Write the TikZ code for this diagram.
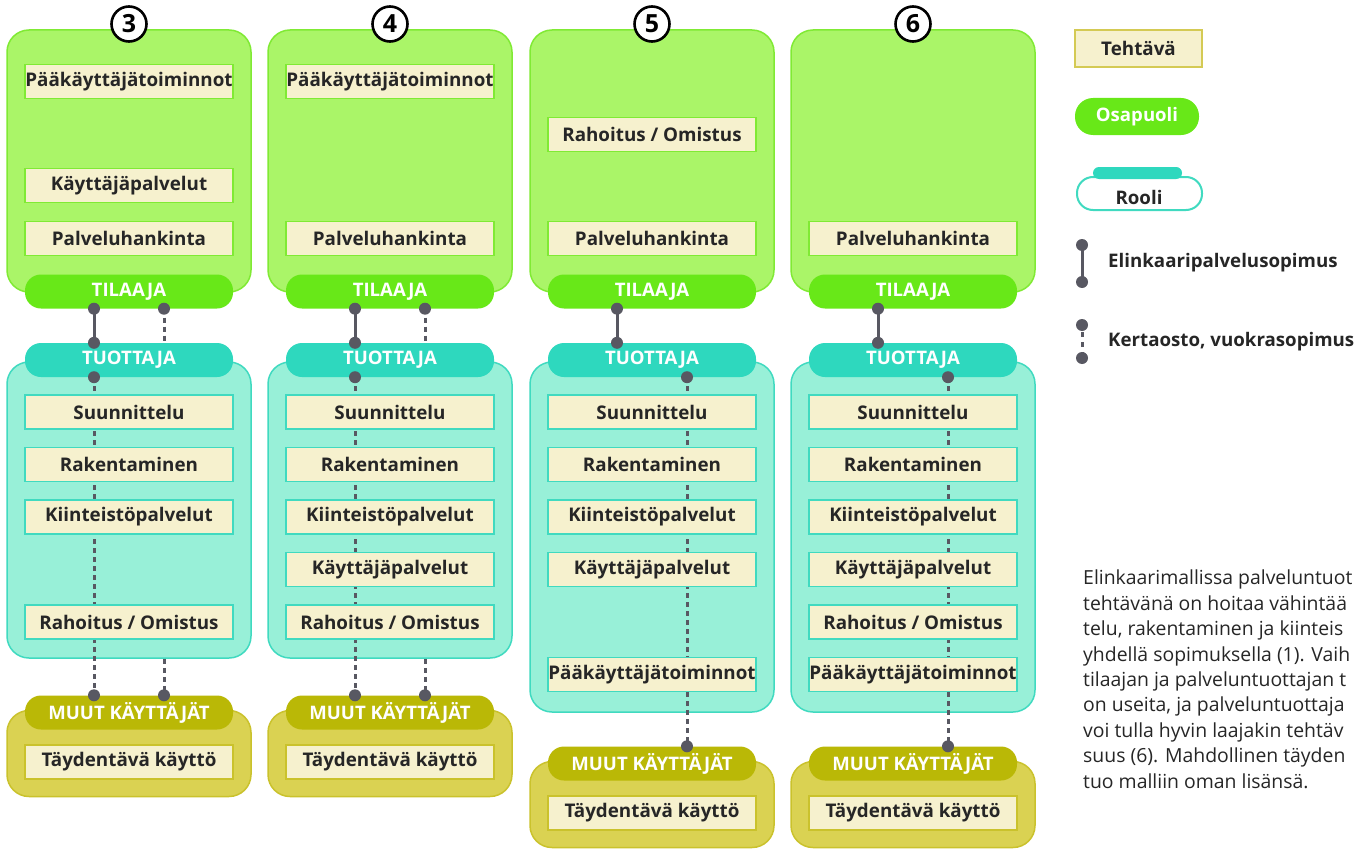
\documentclass[tikz,border=0pt]{standalone}
\usepackage{fontspec}
\setmainfont{Open Sans}
\usepackage{tikz}
\usetikzlibrary{positioning}
\definecolor{osagreen}{RGB}{170,245,104}
\definecolor{osaline}{RGB}{128,234,52}
\definecolor{tilgreen}{RGB}{104,232,24}
\definecolor{tuofill}{RGB}{152,240,216}
\definecolor{tuoline}{RGB}{64,218,192}
\definecolor{tuopill}{RGB}{46,216,190}
\definecolor{muufill}{RGB}{218,210,82}
\definecolor{muuline}{RGB}{202,194,44}
\definecolor{muupill}{RGB}{186,184,6}
\definecolor{taskfill}{RGB}{246,241,206}
\definecolor{tasktext}{RGB}{38,38,38}
\definecolor{sopgray}{RGB}{88,88,98}
\definecolor{legline}{RGB}{212,202,84}
\tikzset{
  tehtava/.style={rectangle, fill=taskfill, draw=#1, line width=1.2pt,
    minimum width=208pt, minimum height=34pt, inner sep=0pt, text=tasktext,
    font=\bfseries\fontsize{18.8}{22}\selectfont},
  tehtava/.default=tuoline,
  lohko/.style={rectangle, rounded corners=22pt, line width=1.5pt,
    minimum width=244pt, inner sep=0pt},
  roolipill/.style={rectangle, rounded corners=16pt, minimum width=208pt,
    minimum height=34pt, inner sep=0pt, text=white,
    font=\bfseries\fontsize{18.6}{22}\selectfont},
  numero/.style={circle, draw=black, line width=2.6pt, fill=white,
    minimum size=35pt, inner sep=0pt, font=\bfseries\fontsize{25}{26}\selectfont},
  sopimus/.style={draw=sopgray, line width=3pt},
  kerta/.style={sopimus, dash pattern=on 5pt off 4pt},
  piste/.style={fill=sopgray},
  legtext/.style={text=tasktext, inner sep=0pt, font=\bfseries\fontsize{18.7}{22}\selectfont}
}
\begin{document}
\begin{tikzpicture}[x=1pt,y=-1pt]
  \useasboundingbox (0,0) rectangle (1356,848);
  \fill[white] (0,0) rectangle (1356,848);
  % Columns 3-6: tilaaja, tuottaja and muut kayttajat blocks with their pills
  \foreach \n/\cx/\ty/\th/\my in {3/129/510/296/712.5, 4/390/510/296/712.5,
                                  5/652/537/350/763.5, 6/913/537/350/763.5} {
    \node[lohko, fill=osagreen, draw=osaline, minimum height=262pt] (tila\n) at (\cx,161) {};
    \node[roolipill, fill=tilgreen] (tilp\n) at (\cx,291.5) {TILAAJA};
    \node[lohko, fill=tuofill, draw=tuoline, minimum height=\th pt] (tuot\n) at (\cx,\ty) {};
    \node[roolipill, fill=tuopill] (tuop\n) at (\cx,360) {TUOTTAJA};
    \node[lohko, fill=muufill, draw=muuline, minimum height=86pt] (muut\n) at (\cx,\my+41) {};
    \node[roolipill, fill=muupill] (muup\n) at (\cx,\my) {MUUT KÄYTTÄJÄT};
    \node[numero] (nro\n) at (\cx,24) {\n};
  }
  % Contracts: 3 and 4 have two links to tilaaja and to muut kayttajat
  \foreach \n in {3,4} {
    \draw[sopimus] ([xshift=-35pt]tilp\n.south) -- ([xshift=-35pt]tuop\n.north);
    \draw[kerta] ([xshift=35pt]tilp\n.south) -- ([xshift=35pt]tuop\n.north);
    \draw[kerta] ([xshift=-35pt]tuop\n.south) -- ([xshift=-35pt]muup\n.north);
    \draw[kerta] ([xshift=35pt]tuot\n.south) -- ([xshift=35pt]muup\n.north);
  }
  \foreach \n in {5,6} {
    \draw[sopimus] ([xshift=-35pt]tilp\n.south) -- ([xshift=-35pt]tuop\n.north);
    \draw[kerta] ([xshift=35pt]tuop\n.south) -- ([xshift=35pt]muup\n.north);
  }
  % Tasks shared by every column
  \foreach \n/\cx/\my in {3/129/712.5, 4/390/712.5, 5/652/763.5, 6/913/763.5} {
    \node[tehtava=osaline] (pal\n) at (\cx,238.5) {Palveluhankinta};
    \node[tehtava] (suu\n) at (\cx,412) {Suunnittelu};
    \node[tehtava] (rak\n) at (\cx,464.5) {Rakentaminen};
    \node[tehtava] (kii\n) at (\cx,517) {Kiinteistöpalvelut};
    \node[tehtava=muuline] (tay\n) at (\cx,\my+49.5) {Täydentävä käyttö};
  }
  % Tasks that move between the parties
  \node[tehtava=osaline] (paa3) at (129,81.5) {Pääkäyttäjätoiminnot};
  \node[tehtava=osaline] (kay3) at (129,185.5) {Käyttäjäpalvelut};
  \node[tehtava] (rah3) at (129,622) {Rahoitus / Omistus};
  \node[tehtava=osaline] (paa4) at (390,81.5) {Pääkäyttäjätoiminnot};
  \node[tehtava] (kay4) at (390,569.5) {Käyttäjäpalvelut};
  \node[tehtava] (rah4) at (390,622) {Rahoitus / Omistus};
  \node[tehtava=osaline] (rah5) at (652,134.5) {Rahoitus / Omistus};
  \node[tehtava] (kay5) at (652,569.5) {Käyttäjäpalvelut};
  \node[tehtava] (paa5) at (652,674.5) {Pääkäyttäjätoiminnot};
  \node[tehtava] (kay6) at (913,569.5) {Käyttäjäpalvelut};
  \node[tehtava] (rah6) at (913,622) {Rahoitus / Omistus};
  \node[tehtava] (paa6) at (913,674.5) {Pääkäyttäjätoiminnot};
  % Contract end points
  \foreach \n in {3,4} {
    \fill[piste] ([xshift=-35pt]tilp\n.south) circle (6);
    \fill[piste] ([xshift=35pt]tilp\n.south) circle (6);
    \fill[piste] ([xshift=-35pt]tuop\n.north) circle (6);
    \fill[piste] ([xshift=-35pt]tuop\n.south) circle (6);
    \fill[piste] ([xshift=-35pt]muup\n.north) circle (6);
    \fill[piste] ([xshift=35pt]muup\n.north) circle (6);
  }
  \foreach \n in {5,6} {
    \fill[piste] ([xshift=-35pt]tilp\n.south) circle (6);
    \fill[piste] ([xshift=-35pt]tuop\n.north) circle (6);
    \fill[piste] ([xshift=35pt]tuop\n.south) circle (6);
    \fill[piste] ([xshift=35pt]muup\n.north) circle (6);
  }
  % Legend
  \node[tehtava=legline, line width=2pt, minimum width=127pt, minimum height=37pt] (legteh) at (1138.5,48.5) {Tehtävä};
  \node[roolipill, fill=tilgreen, rounded corners=18pt, minimum width=124pt, minimum height=37pt] (legosa) at (1137,116.5) {Osapuoli};
  \node[roolipill, fill=white, draw=tuoline, line width=2pt, minimum width=125pt, minimum height=33pt] (legroo) at (1139.5,193.5) {};
  \node[fill=tuopill, rounded corners=6pt, minimum width=89pt, minimum height=12pt, inner sep=0pt] (legbar) at (1137.5,173) {};
  \node[legtext] (legroot) at (1139,197) {Rooli};
  \coordinate (ela) at (1082,245);
  \coordinate (elb) at (1082,282);
  \coordinate (elm) at (1082,263);
  \draw[sopimus] (ela) -- (elb);
  \fill[piste] (ela) circle (6);
  \fill[piste] (elb) circle (6);
  \node[legtext, right=26pt of elm] (legeli) {Elinkaaripalvelusopimus};
  \coordinate (kea) at (1082,325);
  \coordinate (keb) at (1082,358);
  \coordinate (kem) at (1082,342);
  \draw[kerta, dash pattern=on 5pt off 5pt, dash phase=-7pt] (kea) -- (keb);
  \fill[piste] (kea) circle (6);
  \fill[piste] (keb) circle (6);
  \node[legtext, right=26pt of kem] (legker) {Kertaosto, vuokrasopimus};
  % Text beside the legend, cut by the right edge
  \node[anchor=north west, inner sep=0pt, align=left, text=tasktext,
        font=\fontsize{19.4}{25.4}\selectfont] (kuvaus) at (1083,570)
    {Elinkaarimallissa palveluntuot\\
     tehtävänä on hoitaa vähintää\\
     telu, rakentaminen ja kiinteis\\
     yhdellä sopimuksella (1). Vaih\\
     tilaajan ja palveluntuottajan t\\
     on useita, ja palveluntuottaja\\
     voi tulla hyvin laajakin tehtäv\\
     suus (6). Mahdollinen täyden\\
     tuo malliin oman lisänsä.};
\end{tikzpicture}
\end{document}
